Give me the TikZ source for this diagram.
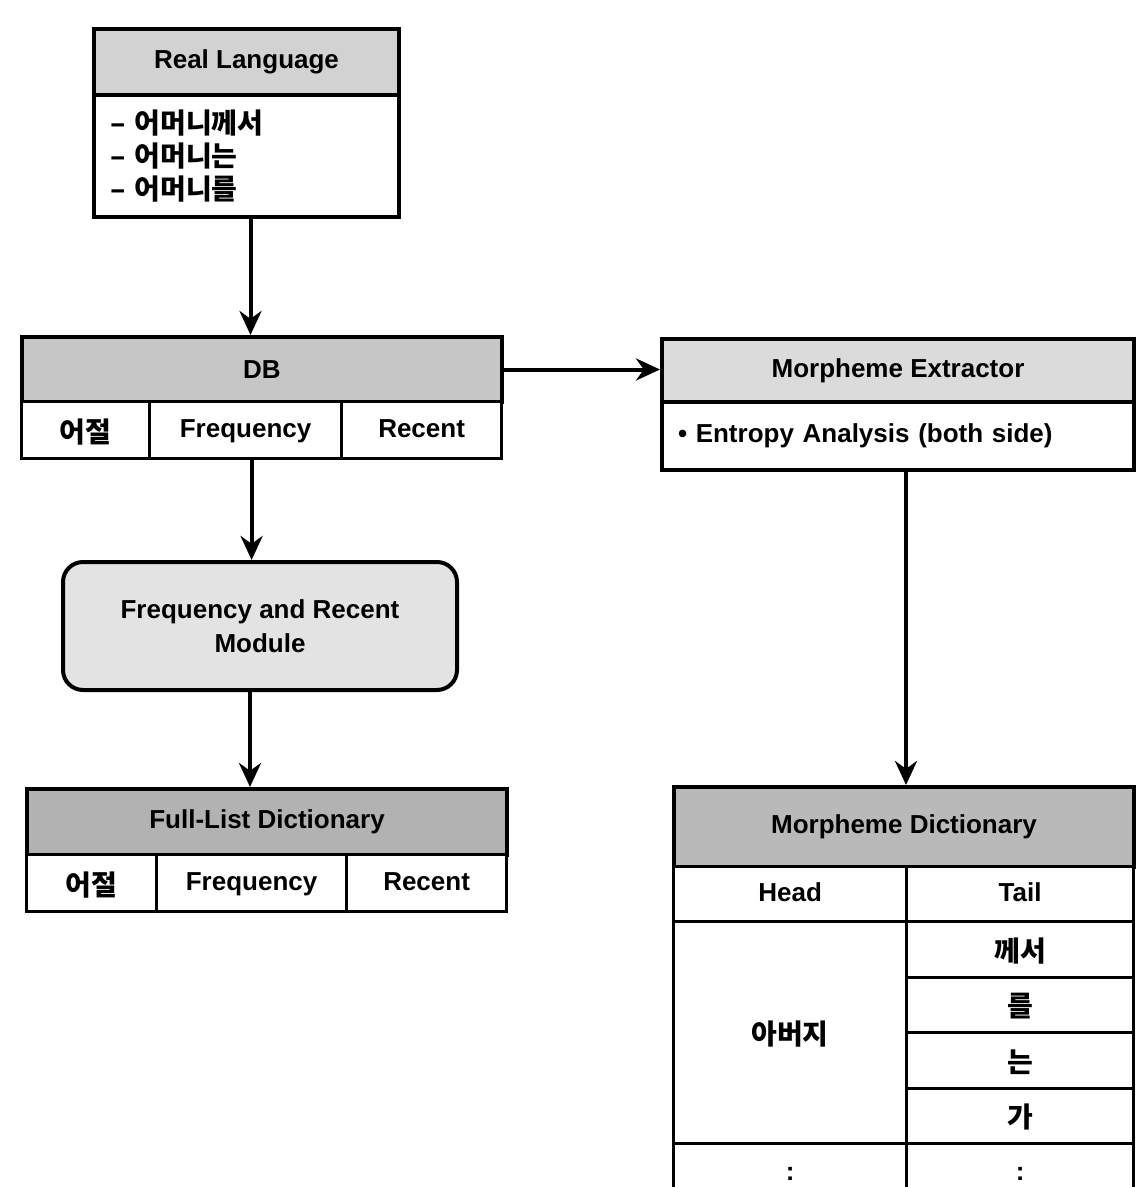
\documentclass[tikz,border=0pt]{standalone}
\usepackage{fontspec}
\setmainfont{Liberation Sans}
\newfontfamily\kr{Noto Sans CJK KR}
\usetikzlibrary{arrows.meta,positioning}
\tikzset{
  pic style/.style={
    x=0.5pt, y=-0.5pt,
  },
  head box/.style={
    draw=black, line width=2pt, fill=#1,
    anchor=north west, inner sep=0pt,
    font=\bfseries\fontsize{13}{15}\selectfont,
  },
  cell box/.style={
    draw=black, line width=1.6pt, fill=white,
    anchor=north west, inner sep=0pt,
    text height=10pt, text depth=3pt,
    font=\bfseries\fontsize{13}{15}\selectfont,
  },
  kr cell/.style={
    cell box,
    text height=12.5pt, text depth=0.5pt,
    font=\kr\bfseries\fontsize{14}{15}\selectfont,
  },
  list box/.style={
    draw=black, line width=2pt, fill=white,
    anchor=north west, inner sep=0pt,
    align=left, text width=#1, inner xsep=8pt,
    font=\bfseries\fontsize{13}{15}\selectfont,
  },
  module box/.style={
    draw=black, line width=2pt, fill=gray!22,
    rounded corners=10pt, align=center,
    minimum width=197pt, minimum height=64pt,
    font=\bfseries\fontsize{13}{17}\selectfont,
  },
  flow/.style={
    line width=2pt,
    -{Stealth[length=12pt,width=11pt]},
  },
}
\begin{document}
\begin{tikzpicture}[pic style]
  \useasboundingbox (0,0) rectangle (1136,1187);
  % real language
  \node[head box=gray!35, minimum width=152.5pt, minimum height=33pt] (rlh) at (92,27) {Real Language};
  \node[list box=136.5pt, minimum height=61pt, font=\kr\bfseries\fontsize{14}{16.5}\selectfont] (rlb) at (92,93)
    {– 어머니께서\\– 어머니는\\– 어머니를};
  % DB
  \node[head box=gray!45, minimum width=240pt, minimum height=32.5pt] (dbh) at (20,335) {DB};
  \node[kr cell, minimum width=64pt, minimum height=28.5pt] (db1) at (20,400) {어절};
  \node[cell box, minimum width=96pt, minimum height=28.5pt] (db2) at (148,400) {Frequency};
  \node[cell box, minimum width=80pt, minimum height=28.5pt] (db3) at (340,400) {Recent};
  % morpheme extractor
  \node[head box=gray!28, minimum width=236pt, minimum height=31.5pt] (meh) at (660,337) {Morpheme Extractor};
  \node[list box=220pt, minimum height=34pt] (meb) at (660,400) {• Entropy Analysis (both side)};
  % module
  \node[module box] (mod) at (260,626) {Frequency and Recent\\Module};
  % full-list dictionary
  \node[head box=gray!60, minimum width=240pt, minimum height=33pt] (flh) at (25,787) {Full-List Dictionary};
  \node[kr cell, minimum width=65pt, minimum height=28.5pt] (fl1) at (25,853) {어절};
  \node[cell box, minimum width=95pt, minimum height=28.5pt] (fl2) at (155,853) {Frequency};
  \node[cell box, minimum width=80pt, minimum height=28.5pt] (fl3) at (345,853) {Recent};
  % morpheme dictionary
  \node[head box=gray!55, minimum width=230pt, minimum height=40pt] (mdh) at (672,785) {Morpheme Dictionary};
  \node[cell box, minimum width=116.5pt, minimum height=27.5pt] (mdhead) at (672,865) {Head};
  \node[cell box, minimum width=113.5pt, minimum height=27.5pt] (mdtail) at (905,865) {Tail};
  \node[kr cell, minimum width=116.5pt, minimum height=111pt] (mdword) at (672,920) {아버지};
  \foreach \y/\t [count=\i] in {920/께서, 975.5/를, 1031/는, 1086.5/가}
    \node[kr cell, minimum width=113.5pt, minimum height=27.75pt] (mdt\i) at (905,\y) {\t};
  \node[cell box, minimum width=116.5pt, minimum height=30pt] (mddots1) at (672,1142) {:};
  \node[cell box, minimum width=113.5pt, minimum height=30pt] (mddots2) at (905,1142) {:};
  % connectors
  \draw[flow] ([xshift=2pt]rlb.south) -- ([xshift=2pt]rlb.south |- dbh.north);
  \draw[flow] (dbh.east) -- (dbh.east -| meh.west);
  \draw[flow] ([xshift=3pt]db2.south) -- ([xshift=3pt]db2.south |- mod.north);
  \draw[flow] ([xshift=-5pt]mod.south) -- ([xshift=-5pt]mod.south |- flh.north);
  \draw[flow] ([xshift=4pt]meb.south) -- ([xshift=4pt]meb.south |- mdh.north);
\end{tikzpicture}
\end{document}
